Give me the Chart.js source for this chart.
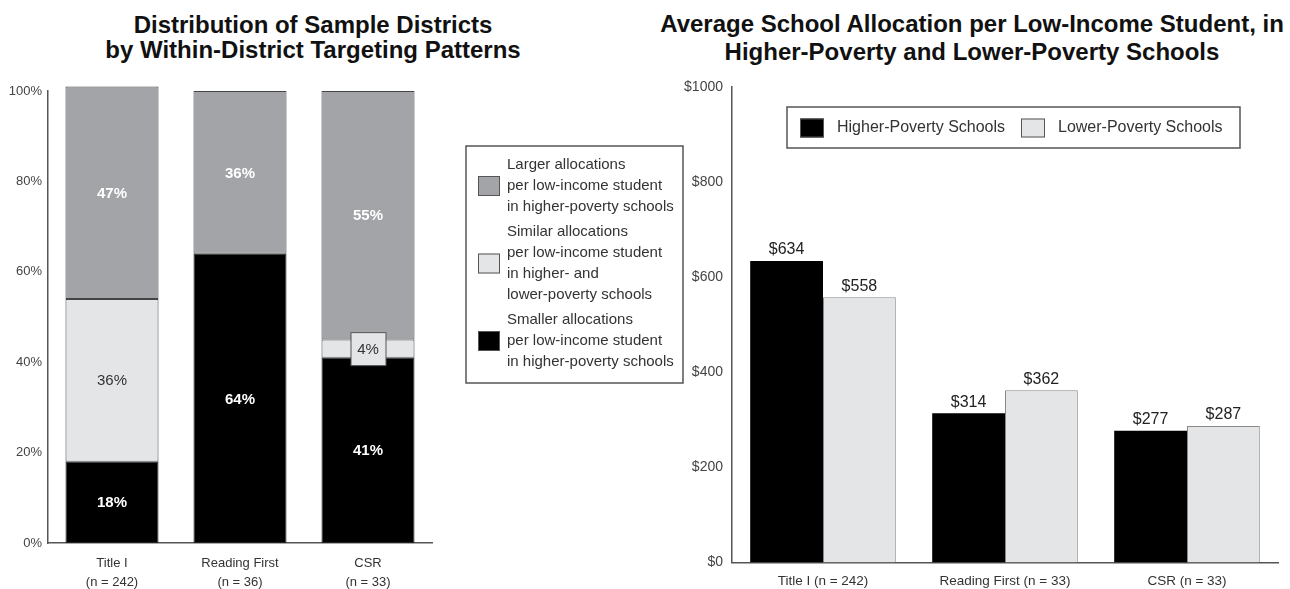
<!DOCTYPE html>
<html>
<head>
<meta charset="utf-8">
<script src="https://cdn.jsdelivr.net/npm/chart.js@4.4.0/dist/chart.umd.min.js"></script>
<style>
body{margin:0;background:#fff;font-family:"Liberation Sans",Arial,sans-serif;}
#wrap{position:relative;width:1290px;height:589px;overflow:hidden;background:#fff;}
.ttl{position:absolute;top:12px;font-weight:bold;font-size:24px;color:#111;text-align:center;white-space:nowrap;transform:translateX(-50%);}
#leftChart{position:absolute;left:0;top:0;}
#rightChart{position:absolute;left:640px;top:0;}
</style>
</head>
<body>
<div id="wrap">
  <div class="ttl" style="left:313px;line-height:25px;">Distribution of Sample Districts<br>by Within-District Targeting Patterns</div>
  <div class="ttl" style="left:972px;top:10px;line-height:28px;">Average School Allocation per Low-Income Student, in<br>Higher-Poverty and Lower-Poverty Schools</div>
  <canvas id="leftChart" width="700" height="589"></canvas>
  <canvas id="rightChart" width="650" height="589"></canvas>
</div>
<script>
// left chart data (percent of districts)
const programs = [['Title I', '(n = 242)'], ['Reading First', '(n = 36)'], ['CSR', '(n = 33)']];
const smallerShare = [18, 64, 41];
const similarShare = [36, 0, 4];
const largerShare = [47, 36, 55];
const smallerLines = ['Smaller allocations', 'per low-income student', 'in higher-poverty schools'];
const similarLines = ['Similar allocations', 'per low-income student', 'in higher- and', 'lower-poverty schools'];
const largerLines = ['Larger allocations', 'per low-income student', 'in higher-poverty schools'];

// right chart data (dollars per low-income student)
const allocPrograms = ['Title I (n = 242)', 'Reading First (n = 33)', 'CSR (n = 33)'];
const higherPoverty = [634, 314, 277];
const lowerPoverty = [558, 362, 287];
const dollarTicks = [0, 200, 400, 600, 800, 1000];

const FONT = '"Liberation Sans", Arial, sans-serif';
const BLACK = '#000000', LIGHT = '#e3e5e7', GRAY = '#a2a4a7';
Chart.defaults.font.family = FONT;
Chart.defaults.color = '#333';

// percent labels in the middle of each stacked piece
const segmentLabels = {
  id: 'segmentLabels',
  afterDatasetsDraw(chart){
    const ctx = chart.ctx;
    ctx.save();
    ctx.textAlign = 'center';
    ctx.textBaseline = 'middle';
    chart.data.datasets.forEach((ds, di) => {
      chart.getDatasetMeta(di).data.forEach((bar, i) => {
        const v = ds.data[i];
        if(!v) return;
        const cy = (bar.y + bar.base) / 2;
        if(Math.abs(bar.base - bar.y) < 30){
          ctx.fillStyle = LIGHT;
          ctx.strokeStyle = '#555';
          ctx.lineWidth = 1;
          ctx.fillRect(bar.x - 17, cy - 16, 35, 33);
          ctx.strokeRect(bar.x - 17, cy - 16, 35, 33);
        }
        ctx.fillStyle = ds.labelColor;
        ctx.font = (ds.labelBold ? 'bold ' : '') + '15px ' + FONT;
        ctx.fillText(v + '%', bar.x, cy + 1);
      });
    });
    ctx.restore();
  }
};

// dollar labels above bars
const valueLabels = {
  id: 'valueLabels',
  afterDatasetsDraw(chart){
    const ctx = chart.ctx;
    ctx.save();
    ctx.textAlign = 'center';
    ctx.textBaseline = 'bottom';
    ctx.font = '16px ' + FONT;
    ctx.fillStyle = '#222';
    chart.data.datasets.forEach((ds, di) => {
      chart.getDatasetMeta(di).data.forEach((bar, i) => {
        ctx.fillText('$' + ds.data[i], bar.x, bar.y - 3);
      });
    });
    ctx.restore();
  }
};

// legend drawn inside a bordered box
const boxLegend = {
  id: 'boxLegend',
  afterDraw(chart, args, o){
    const ctx = chart.ctx;
    ctx.save();
    ctx.strokeStyle = '#555';
    ctx.lineWidth = 1.5;
    ctx.strokeRect(o.x, o.y, o.w, o.h);
    ctx.font = o.fontSize + 'px ' + FONT;
    ctx.textBaseline = 'middle';
    ctx.textAlign = 'left';
    o.items.forEach(it => {
      const ds = chart.data.datasets[it.dataset];
      const lines = ds.legendLines || [ds.label];
      const midY = it.y + (lines.length - 1) * o.lineH / 2;
      ctx.fillStyle = ds.backgroundColor;
      ctx.fillRect(it.x, midY - o.sh / 2, o.sw, o.sh);
      ctx.strokeStyle = '#555';
      ctx.lineWidth = 1;
      ctx.strokeRect(it.x + 0.5, midY - o.sh / 2 + 0.5, o.sw - 1, o.sh - 1);
      ctx.fillStyle = '#333';
      lines.forEach((ln, k) => ctx.fillText(ln, it.x + o.sw + o.gap, it.y + k * o.lineH));
    });
    ctx.restore();
  }
};

new Chart(document.getElementById('leftChart'), {
  type: 'bar',
  data: {
    labels: programs,
    datasets: [
      {label: smallerLines.join(' '), legendLines: smallerLines, data: smallerShare, backgroundColor: BLACK, borderColor: '#222', labelColor: '#fff', labelBold: true},
      {label: similarLines.join(' '), legendLines: similarLines, data: similarShare, backgroundColor: LIGHT, borderColor: '#444', labelColor: '#333', labelBold: false},
      {label: largerLines.join(' '), legendLines: largerLines, data: largerShare, backgroundColor: GRAY, borderColor: '#444', labelColor: '#fff', labelBold: true}
    ]
  },
  options: {
    responsive: false,
    animation: false,
    layout: {padding: {top: 91, right: 268, left: 0, bottom: 0}},
    datasets: {bar: {categoryPercentage: 1, barPercentage: 0.727, borderWidth: 1, borderSkipped: false, clip: false}},
    scales: {
      x: {
        stacked: true,
        grid: {display: false, drawTicks: false},
        border: {color: '#555', width: 1.5},
        ticks: {color: '#333', font: {size: 13, lineHeight: 1.45}, padding: 11, maxRotation: 0},
        afterFit(s){ s.height = 46; }
      },
      y: {
        stacked: true, min: 0, max: 100,
        grid: {display: false, drawTicks: false},
        border: {color: '#555', width: 1.5},
        ticks: {stepSize: 20, color: '#444', font: {size: 13}, padding: 6, callback: v => v + '%'},
        afterFit(s){ s.width = 48; }
      }
    },
    plugins: {
      legend: {display: false},
      tooltip: {enabled: false},
      boxLegend: {
        x: 466, y: 146, w: 217, h: 237, fontSize: 15, lineH: 21, sw: 22, sh: 20, gap: 7,
        items: [{dataset: 2, x: 478, y: 165}, {dataset: 1, x: 478, y: 232}, {dataset: 0, x: 478, y: 320}]
      }
    }
  },
  plugins: [segmentLabels, boxLegend]
});

new Chart(document.getElementById('rightChart'), {
  type: 'bar',
  data: {
    labels: allocPrograms,
    datasets: [
      {label: 'Higher-Poverty Schools', data: higherPoverty, backgroundColor: BLACK, borderWidth: 0},
      {label: 'Lower-Poverty Schools', data: lowerPoverty, backgroundColor: LIGHT, borderColor: '#888', borderWidth: 1}
    ]
  },
  options: {
    responsive: false,
    animation: false,
    layout: {padding: {top: 87, right: 12, left: 0, bottom: 0}},
    datasets: {bar: {categoryPercentage: 0.8, barPercentage: 1}},
    scales: {
      x: {
        grid: {display: false, drawTicks: false},
        border: {color: '#555', width: 1.5},
        ticks: {color: '#333', font: {size: 13.5}, padding: 11, maxRotation: 0},
        afterFit(s){ s.height = 26.5; }
      },
      y: {
        min: 0, max: 1000,
        afterBuildTicks(s){ s.ticks = dollarTicks.map(v => ({value: v})); },
        grid: {display: false, drawTicks: false},
        border: {color: '#555', width: 1.5},
        ticks: {color: '#444', font: {size: 14}, padding: 9, callback: v => '$' + v},
        afterFit(s){ s.width = 92; }
      }
    },
    plugins: {
      legend: {display: false},
      tooltip: {enabled: false},
      boxLegend: {
        x: 147, y: 107, w: 453, h: 41, fontSize: 16, lineH: 20, sw: 24, sh: 19, gap: 13,
        items: [{dataset: 0, x: 160, y: 128}, {dataset: 1, x: 381, y: 128}]
      }
    }
  },
  plugins: [valueLabels, boxLegend]
});
</script>
</body>
</html>
